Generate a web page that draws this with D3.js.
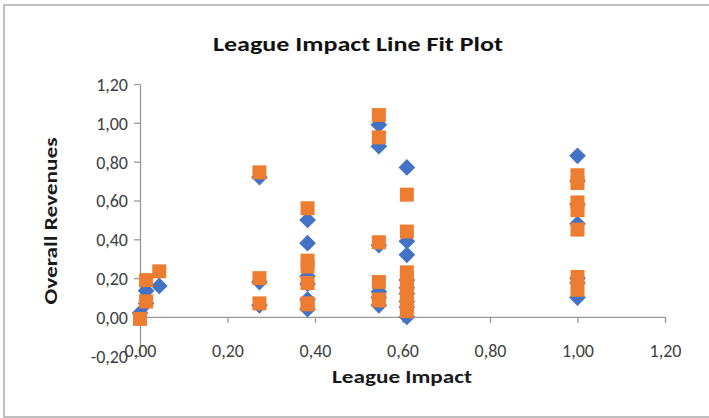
<!DOCTYPE html>
<html>
<head>
<meta charset="utf-8">
<script src="https://cdn.jsdelivr.net/npm/d3@7"></script>
<style>
  html, body { margin: 0; padding: 0; background: #fff; }
  svg { display: block; }
  text { font-family: Carlito, Lato, "Liberation Sans", sans-serif; }
</style>
</head>
<body>
<svg id="chart" width="709" height="418"></svg>
<script>
// League impact of each observation
const leagueImpact = [
  0.00, 0.014, 0.014, 0.044,
  0.273, 0.273, 0.273,
  0.383, 0.383, 0.383, 0.383, 0.383, 0.383,
  0.546, 0.546, 0.546, 0.546, 0.546, 0.546,
  0.61, 0.61, 0.61, 0.61, 0.61, 0.61, 0.61, 0.61, 0.61,
  1.00, 1.00, 1.00, 1.00, 1.00, 1.00, 1.00
];
// Observed overall revenues
const overallRevenues = [
  0.02, 0.135, 0.07, 0.16,
  0.72, 0.18, 0.06,
  0.50, 0.38, 0.21, 0.17, 0.09, 0.04,
  0.99, 0.88, 0.37, 0.13, 0.06, 0.10,
  0.77, 0.39, 0.32, 0.00, 0.19, 0.15, 0.12, 0.08, 0.05,
  0.83, 0.70, 0.58, 0.48, 0.175, 0.10, 0.20
];
// Fitted (predicted) overall revenues
const predictedRevenues = [
  -0.01, 0.19, 0.08, 0.235,
  0.745, 0.20, 0.07,
  0.56, 0.29, 0.26, 0.175, 0.065, 0.07,
  1.04, 0.925, 0.385, 0.18, 0.09, 0.085,
  0.63, 0.44, 0.23, 0.03, 0.20, 0.16, 0.12, 0.09, 0.06,
  0.73, 0.69, 0.59, 0.55, 0.45, 0.206, 0.14
];
const xTicks = [0, 0.2, 0.4, 0.6, 0.8, 1.0, 1.2];
const yTicks = [-0.2, 0, 0.2, 0.4, 0.6, 0.8, 1.0, 1.2];

const chartTitle = "League Impact Line Fit  Plot";
const xTitle = "League Impact";
const yTitle = "Overall Revenues";

const svg = d3.select("#chart");
const fmt = v => d3.format(".2f")(v).replace(".", ",").replace("−", "-");

// chart frame
svg.append("rect")
  .attr("x", 4).attr("y", 5)
  .attr("width", 720).attr("height", 412)
  .attr("fill", "#fff")
  .attr("stroke", "#ababab")
  .attr("stroke-width", 1.5);

const x = d3.scaleLinear().domain([0, 1.2]).range([140, 665]);
const y = d3.scaleLinear().domain([-0.2, 1.2]).range([355.8, 84]);

const axisColor = "#9a9a9a";
const labelColor = "#404040";

// y axis (at x = 0)
const yAxis = svg.append("g")
  .attr("transform", `translate(${x(0)},0)`)
  .call(d3.axisLeft(y).tickValues(yTicks).tickSizeInner(6).tickSizeOuter(0).tickPadding(6).tickFormat(fmt));
yAxis.select(".domain").attr("stroke", axisColor).attr("stroke-width", 1.3);
yAxis.selectAll(".tick line").attr("stroke", axisColor).attr("stroke-width", 1.3);
yAxis.selectAll(".tick text").attr("fill", labelColor).attr("font-size", 18).attr("dy", "0.36em");

// x axis (crossing at y = 0)
const xAxis = svg.append("g")
  .attr("transform", `translate(0,${y(0)})`)
  .call(d3.axisBottom(x).tickValues(xTicks).tickSizeInner(6).tickSizeOuter(0).tickPadding(21).tickFormat(fmt));
xAxis.select(".domain").attr("stroke", axisColor).attr("stroke-width", 1.3);
xAxis.selectAll(".tick line").attr("stroke", axisColor).attr("stroke-width", 1.3);
xAxis.selectAll(".tick text").attr("fill", labelColor).attr("font-size", 18);

const points = leagueImpact.map((v, i) => ({ x: v, actual: overallRevenues[i], predicted: predictedRevenues[i] }));

// observed values: blue diamonds
const diamond = d3.symbol().type(d3.symbolSquare).size(140);
svg.append("g").selectAll("path")
  .data(points).join("path")
  .attr("d", diamond)
  .attr("transform", d => `translate(${x(d.x)},${y(d.actual)}) rotate(45)`)
  .attr("fill", "#4472C4");

// predicted values: orange squares
const square = d3.symbol().type(d3.symbolSquare).size(196);
svg.append("g").selectAll("path")
  .data(points).join("path")
  .attr("d", square)
  .attr("transform", d => `translate(${x(d.x)},${y(d.predicted)})`)
  .attr("fill", "#ED7D31");

// titles
svg.append("text")
  .attr("x", 358).attr("y", 51)
  .attr("text-anchor", "middle")
  .attr("font-size", 21).attr("font-weight", "bold")
  .attr("fill", "#111")
  .attr("textLength", 290).attr("lengthAdjust", "spacingAndGlyphs")
  .text(chartTitle);

svg.append("text")
  .attr("x", 402).attr("y", 383)
  .attr("text-anchor", "middle")
  .attr("font-size", 19).attr("font-weight", "bold")
  .attr("fill", "#1a1a1a")
  .attr("textLength", 140).attr("lengthAdjust", "spacingAndGlyphs")
  .text(xTitle);

svg.append("text")
  .attr("transform", "translate(57,221) rotate(-90)")
  .attr("text-anchor", "middle")
  .attr("font-size", 19).attr("font-weight", "bold")
  .attr("fill", "#1a1a1a")
  .attr("textLength", 167).attr("lengthAdjust", "spacingAndGlyphs")
  .text(yTitle);
</script>
</body>
</html>
